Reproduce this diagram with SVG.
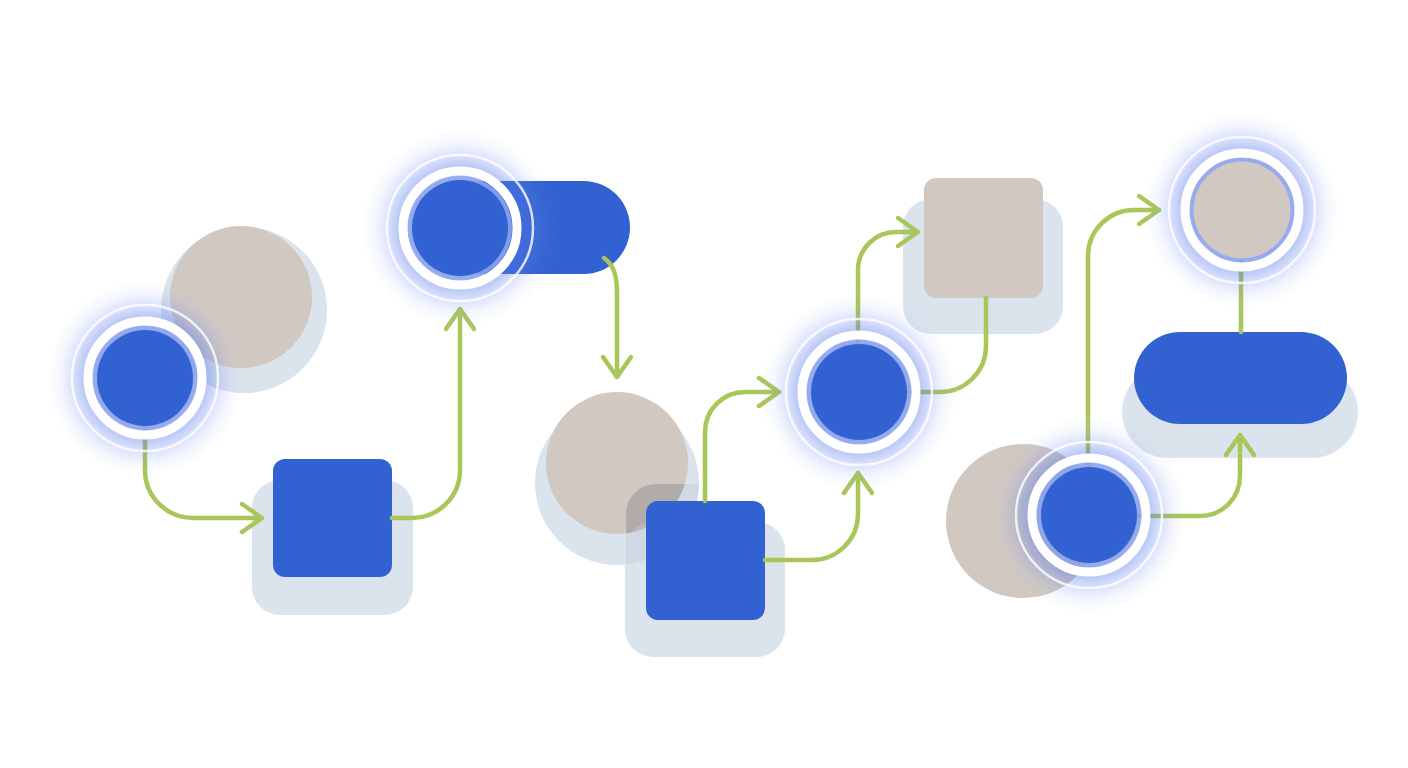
<svg xmlns="http://www.w3.org/2000/svg" width="1408" height="768" viewBox="0 0 1408 768">
<defs>
<style>
.blue{fill:#3262d1}
.gray{fill:#d1c9c1}
.shadow{fill:#dbe3ed}
.conn{fill:none;stroke:#a9c65a;stroke-width:4.5;stroke-linecap:round;stroke-linejoin:round}
.halo{fill:#92a9ec}
.white{fill:none;stroke:#ffffff;stroke-width:9}
.faint{fill:none;stroke:#ffffff;stroke-opacity:0.8;stroke-width:2.5}
</style>
<radialGradient id="glow">
<stop offset="0.5" stop-color="#4d70ea" stop-opacity="0.55"/>
<stop offset="0.62" stop-color="#5576eb" stop-opacity="0.42"/>
<stop offset="0.74" stop-color="#6585ee" stop-opacity="0.25"/>
<stop offset="0.87" stop-color="#7a94f0" stop-opacity="0.08"/>
<stop offset="1" stop-color="#8aa0f2" stop-opacity="0"/>
</radialGradient>
<marker id="arr" viewBox="-26 -20 30 40" markerWidth="30" markerHeight="40" refX="0" refY="0" orient="auto" markerUnits="userSpaceOnUse">
<path d="M-20,-14 L0,0 L-20,14" fill="none" stroke="#a9c65a" stroke-width="4.5" stroke-linecap="round" stroke-linejoin="round"/>
</marker>
<clipPath id="clipG4"><circle cx="617" cy="463" r="71"/></clipPath>
<clipPath id="clipS4"><circle cx="617" cy="483" r="82"/></clipPath>
</defs>
<rect width="1408" height="768" fill="#ffffff"/>

<!-- background / passive nodes -->
<g id="node-gray-1">
<circle class="shadow" cx="244" cy="310" r="83"/>
<circle class="gray" cx="241" cy="297" r="71"/>
</g>
<g id="node-square-2">
<rect class="shadow" x="252" y="480" width="161" height="135" rx="28"/>
<rect class="blue" x="273" y="459" width="119" height="118" rx="12"/>
</g>
<g id="node-pill-3">
<rect class="blue" x="412" y="181" width="218" height="93" rx="46.5"/>
</g>
<g id="node-gray-4">
<circle class="shadow" cx="617" cy="483" r="82"/>
<circle class="gray" cx="617" cy="463" r="71"/>
</g>
<g id="node-square-5">
<rect class="shadow" x="625" y="522" width="160" height="135" rx="28"/>
<rect x="626" y="484" width="140" height="150" rx="30" fill="#9aa4b8" opacity="0.18" clip-path="url(#clipS4)"/>
<rect x="626" y="484" width="140" height="150" rx="30" fill="#8a837d" opacity="0.35" clip-path="url(#clipG4)"/>
<rect class="blue" x="646" y="501" width="119" height="119" rx="12"/>
</g>
<g id="node-gray-square-7">
<rect class="shadow" x="903" y="199" width="160" height="135" rx="28"/>
<rect class="gray" x="924" y="178" width="119" height="120" rx="12"/>
</g>
<g id="node-gray-9b">
<circle class="gray" cx="1023" cy="521" r="77"/>
</g>
<g id="node-pill-10">
<rect class="shadow" x="1122" y="366" width="236" height="92" rx="46"/>
<rect class="blue" x="1134" y="332" width="213" height="92" rx="46"/>
</g>

<!-- connectors -->
<g id="connectors">
<path class="conn" d="M145,425 L145,470 A48,48 0 0 0 193,518 L262,518" marker-end="url(#arr)"/>
<path class="conn" d="M392,518 L412,518 A48,48 0 0 0 460,470 L460,309" marker-end="url(#arr)"/>
<path class="conn" d="M604,258 C614,265 617,276 617,294 L617,377" marker-end="url(#arr)"/>
<path class="conn" d="M705,501 L705,432 A40,40 0 0 1 745,392 L779,392" marker-end="url(#arr)"/>
<path class="conn" d="M765,560 L812,560 A46,46 0 0 0 858,514 L858,473" marker-end="url(#arr)"/>
<path class="conn" d="M858,345 L858,270 A38,38 0 0 1 896,232 L918,232" marker-end="url(#arr)"/>
<path class="conn" d="M986,298 L986,346 A46,46 0 0 1 940,392 L908,392"/>
<path class="conn" d="M1088,468 L1088,256 A46,46 0 0 1 1134,210 L1159,210" marker-end="url(#arr)"/>
<path class="conn" d="M1241,258 L1241,332"/>
<path class="conn" d="M1137,516 L1200,516 A40,40 0 0 0 1240,476 L1240,435" marker-end="url(#arr)"/>
</g>

<!-- ring nodes -->
<g id="node-ring-1" transform="translate(145,378)">
<circle r="98" fill="url(#glow)"/>
<circle class="faint" r="73"/>
<circle class="halo" r="52" opacity="0.8"/>
<circle class="white" r="57"/>
<circle class="blue" r="48"/>
</g>
<g id="node-ring-3" transform="translate(460,228)">
<circle r="98" fill="url(#glow)"/>
<circle class="faint" r="73"/>
<circle class="halo" r="52" opacity="0.8"/>
<circle class="white" r="57"/>
<circle class="blue" r="48"/>
</g>
<g id="node-ring-6" transform="translate(859,392)">
<circle r="98" fill="url(#glow)"/>
<circle class="faint" r="73"/>
<circle class="halo" r="52" opacity="0.8"/>
<circle class="white" r="57"/>
<circle class="blue" r="48"/>
</g>
<g id="node-ring-8" transform="translate(1242,210)">
<circle r="98" fill="url(#glow)"/>
<circle class="faint" r="73"/>
<circle class="halo" r="52" opacity="0.8"/>
<circle class="white" r="57"/>
<circle class="gray" r="48.5"/>
</g>
<g id="node-ring-9" transform="translate(1089,515)">
<circle r="98" fill="url(#glow)"/>
<circle class="faint" r="73"/>
<circle class="halo" r="52" opacity="0.8"/>
<circle class="white" r="57"/>
<circle class="blue" r="48"/>
</g>
</svg>
